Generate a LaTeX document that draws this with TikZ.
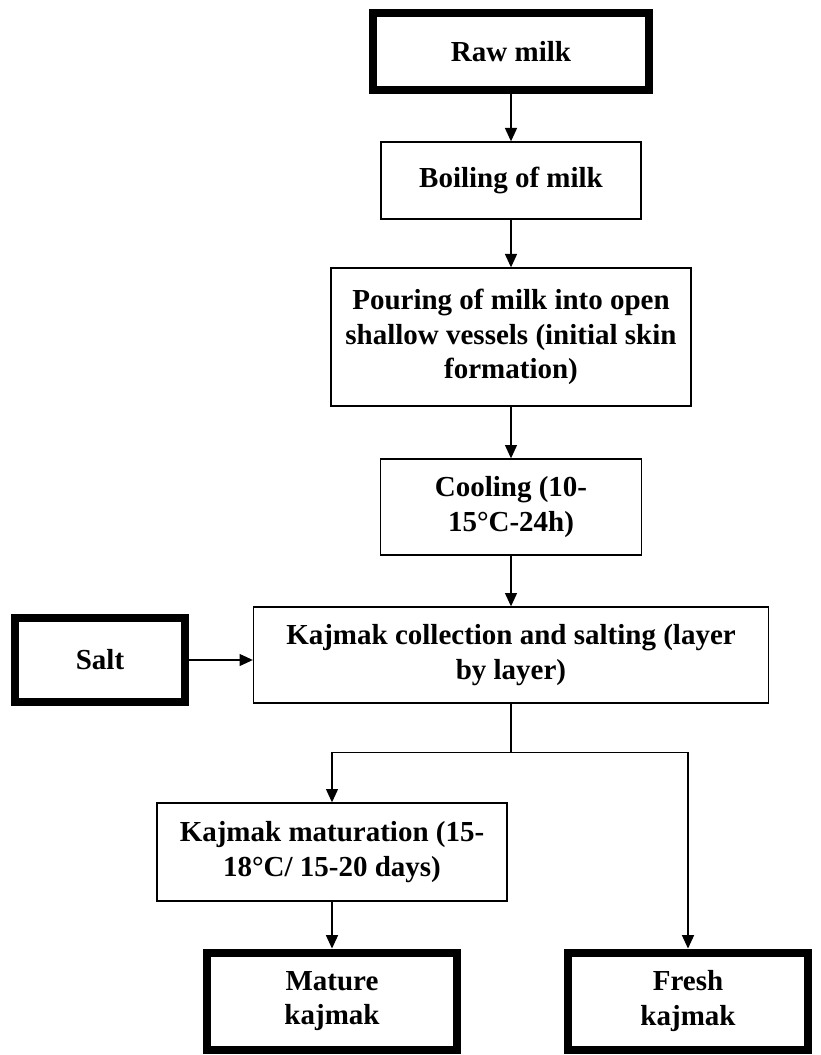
\documentclass[tikz,border=0pt]{standalone}
\usepackage{fontspec}
\setmainfont{Liberation Serif}
\usetikzlibrary{arrows.meta}
\begin{document}
\begin{tikzpicture}[x=0.75pt,y=-0.75pt,
		font=\fontsize{21.75}{26}\selectfont\bfseries,
		box/.style={draw,line width=1pt,align=center,inner sep=0pt},
		thickbox/.style={box,line width=6pt},
		arr/.style={-{Triangle[length=10pt,width=9pt]},line width=1pt}
	]
	\useasboundingbox (0,0) rectangle (820,1055);
	\node[thickbox,minimum width=207pt,minimum height=57.75pt] (raw) at (511,51.5) {Raw milk};
	\node[box,minimum width=195pt,minimum height=57.75pt] (boil) at (511,180.5) {Boiling of milk};
	\node[box,minimum width=270pt,minimum height=103.5pt] (pour) at (511,337) {Pouring of milk into open\\shallow vessels (initial skin\\formation)};
	\node[box,minimum width=195.75pt,minimum height=72pt] (cool) at (511,507) {Cooling (10-\\15°C-24h)};
	\node[thickbox,minimum width=127.5pt,minimum height=63pt] (salt) at (100,660) {Salt};
	\node[box,minimum width=386.25pt,minimum height=72pt] (kaj) at (511,655) {Kajmak collection and salting (layer\\by layer)};
	\node[box,minimum width=262.5pt,minimum height=73.5pt] (matur) at (332,852) {Kajmak maturation (15-\\18°C/ 15-20 days)};
	\node[thickbox,minimum width=187.5pt,minimum height=72.75pt] (mature) at (332,1001) {Mature\\kajmak};
	\node[thickbox,minimum width=180pt,minimum height=72.75pt] (fresh) at (688,1001) {Fresh\\kajmak};

	\draw[arr] (raw) -- (boil);
	\draw[arr] (boil) -- (pour);
	\draw[arr] (pour) -- (cool);
	\draw[arr] (cool) -- (kaj);
	\draw[arr] (salt.east) -- (salt.east -| kaj.west);
	\draw[line width=1pt] (kaj.south) -- ++(0,49) coordinate (split);
	\draw[arr] (split) -| (matur.north);
	\draw[arr] (split) -| (fresh.north);
	\draw[arr] (matur) -- (mature);
\end{tikzpicture}
\end{document}
